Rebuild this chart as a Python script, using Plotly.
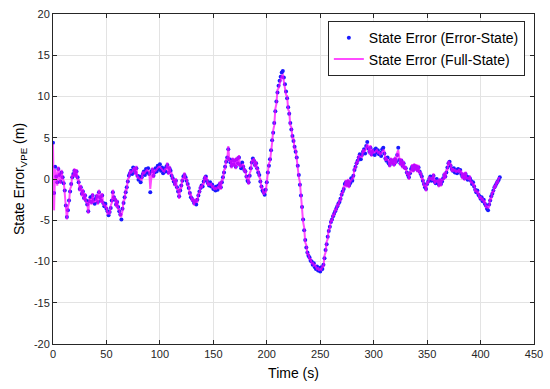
import plotly.graph_objects as go

# Error-State estimate of VPE state error (m), sampled every 1 s from t = 0 s
es_vals = [
    4.4, -1.7, 1.5, 0.3, -0.4, 1.2, 0.5, -0.3, 0.8, 0.2,
    -0.5, -1.4, -3.2, -4.6, -3.8, -2.6, -1.5, -0.6, 0.2, 0.6,
    1.0, 0.5, 0.9, 0.2, -0.4, -1.2, -1.0, -1.8, -1.5, -2.3,
    -2.0, -2.6, -3.1, -3.9, -2.7, -2.2, -2.8, -2.0, -2.5, -3.0,
    -2.4, -2.1, -2.8, -1.6, -2.2, -2.6, -2.0, -2.9, -3.3, -3.0,
    -3.6, -3.9, -4.4, -4.0, -3.5, -2.6, -1.6, -2.2, -2.5, -3.1,
    -2.8, -3.4, -3.9, -4.3, -4.9, -3.6, -2.9, -2.2, -1.6, -1.0,
    -0.3, 0.4, 0.7, 1.0, 0.6, 1.4, 1.1, 0.8, 1.3, 0.4,
    -0.1, 0.3, -0.4, 0.2, 0.6, 0.9, 0.5, 1.2, 0.8, 1.3,
    0.6, -1.6, 0.9, 1.1, 0.4, 0.8, 1.3, 0.9, 1.6, 1.2,
    1.8, 1.0, 1.4, 0.7, 1.2, 0.9, 1.5, 1.7, 0.8, 1.3,
    1.0, 0.4, 0.1, -0.3, -0.6, -0.2, -1.0, -1.5, -2.1, -1.4,
    -0.8, -0.2, 0.3, 0.5, 0.2, -0.2, -0.6, -1.1, -1.7, -2.2,
    -2.4, -2.6, -2.9, -2.7, -3.1, -2.5, -2.0, -1.5, -1.1, -0.8,
    -0.9, -0.3, 0.1, 0.3, -0.2, -0.5, -0.8, -0.4, -0.9, -0.7,
    -1.2, -1.0, -1.4, -0.9, -1.3, -0.8, -0.6, -1.0, -0.4, 0.2,
    0.8, 1.5, 2.1, 2.6, 3.6, 2.4, 2.0, 1.6, 2.3, 1.8,
    2.2, 1.5, 2.4, 1.9, 2.6, 1.7, 1.3, 2.0, 1.5, 1.1,
    0.9, 0.3, -0.2, -0.4, 0.4, 1.3, 2.0, 2.5, 2.2, 1.7,
    1.9, 1.3, 0.8, 0.5, -0.3, -0.9, -1.4, -1.6, -1.9, -1.3,
    -0.4, 0.8, 1.6, 2.4, 3.5, 4.7, 5.6, 6.8, 8.2, 9.4,
    10.5, 11.3, 11.9, 12.4, 12.9, 13.1, 12.3, 11.5, 10.6, 9.8,
    8.7, 7.9, 6.8, 6.0, 5.2, 4.6, 3.9, 3.3, 2.6, 1.6,
    0.5, -0.7, -2.0, -3.4, -4.9, -6.2, -7.4, -8.3, -8.9, -9.3,
    -9.5, -9.9, -10.0, -10.4, -10.2, -10.7, -10.9, -10.6, -11.1, -10.8,
    -11.2, -10.7, -10.9, -10.4, -9.6, -8.6, -7.9, -7.0, -6.3, -5.8,
    -5.2, -4.9, -4.5, -4.2, -3.9, -3.6, -3.3, -3.0, -2.8, -2.4,
    -1.9, -1.5, -1.2, -0.6, -0.4, -0.7, -0.3, -0.8, -0.5, 0.1,
    -0.2, 0.4, 1.1, 1.5, 1.9, 2.2, 2.6, 3.0, 2.4, 2.9,
    3.3, 3.6, 3.1, 4.0, 4.5, 3.7, 3.3, 3.8, 3.0, 3.3,
    3.5, 2.9, 3.7, 3.2, 3.5, 3.0, 3.2, 2.8, 3.6, 3.8,
    3.1, 2.5, 2.2, 2.6, 1.9, 1.7, 2.3, 2.0, 2.2, 1.8,
    2.4, 2.1, 2.9, 3.8, 2.3, 1.9, 2.2, 1.6, 1.9, 1.4,
    1.3, 0.8, 0.5, 0.2, 0.7, 1.2, 1.5, 1.1, 1.6, 1.3,
    1.5, 1.1, 1.4, 0.9, 0.6, 0.3, -0.2, -0.6, -1.0, -1.2,
    -0.6, -0.3, 0.0, 0.3, -0.2, 0.1, 0.4, -0.3, -0.5, 0.0,
    -0.4, -0.7, -0.2, -0.6, -0.3, 0.1, 0.5, 0.3, 0.8, 1.4,
    1.9, 2.1, 1.6, 1.2, 1.0, 1.3, 0.8, 1.1, 0.7, 1.2,
    0.9, 1.1, 0.6, 0.3, 0.5, 0.1, 0.6, 0.3, -0.1, 0.2,
    0.1, -0.2, -0.6, -0.4, -0.9, -1.3, -1.6, -1.4, -1.9, -2.1,
    -2.4, -2.2, -2.7, -2.5, -3.0, -3.2, -3.6, -3.8, -3.1, -2.6,
    -2.1, -1.8, -1.4, -1.0, -0.8, -0.5, -0.3, -0.1, 0.2,
]

# Full-State estimate of VPE state error (m), sampled every 1 s from t = 0 s
fs_vals = [
    4.2, -3.8, 1.2, 0.6, -0.8, 1.5, 0.2, -0.6, 1.1, 0.0,
    -0.2, -1.8, -2.8, -4.9, -3.4, -2.9, -1.2, -0.9, 0.5, 0.3,
    1.3, 0.2, 1.2, -0.1, -0.1, -1.5, -0.7, -2.1, -1.2, -2.6,
    -1.7, -2.9, -2.8, -4.2, -2.4, -2.5, -3.1, -1.7, -2.8, -2.7,
    -2.7, -1.8, -3.1, -1.3, -2.5, -2.9, -1.7, -3.2, -3.0, -3.4,
    -3.3, -4.2, -4.1, -4.3, -3.2, -2.9, -1.3, -2.5, -2.2, -3.4,
    -2.5, -3.7, -3.6, -4.6, -4.5, -3.9, -2.6, -2.5, -1.3, -1.3,
    0.0, 0.1, 1.0, 0.7, 0.9, 1.1, 1.4, 0.5, 1.6, 0.1,
    0.2, 0.0, -0.1, -0.1, 0.9, 0.6, 0.8, 0.9, 1.1, 1.0,
    0.9, -1.2, 0.6, 1.4, 0.1, 1.1, 1.0, 1.2, 1.3, 1.5,
    1.5, 1.3, 1.1, 1.0, 0.9, 1.2, 1.2, 2.0, 0.5, 1.6,
    0.7, 0.7, -0.2, 0.0, -0.9, 0.1, -1.3, -1.2, -2.4, -1.1,
    -1.1, 0.1, 0.0, 0.8, -0.1, 0.1, -0.9, -0.8, -2.0, -1.9,
    -2.7, -2.3, -3.2, -2.4, -2.8, -2.8, -1.7, -1.8, -0.8, -1.1,
    -0.6, -0.6, 0.4, 0.0, 0.1, -0.8, -0.5, -0.7, -0.6, -1.0,
    -0.9, -1.3, -1.1, -1.2, -1.0, -1.1, -0.3, -1.3, -0.1, -0.1,
    1.1, 1.2, 2.4, 2.3, 4.0, 2.1, 2.3, 1.3, 2.6, 1.5,
    2.5, 1.2, 2.7, 1.6, 2.9, 1.4, 1.6, 1.7, 1.8, 0.8,
    1.2, 0.0, 0.1, -0.7, 0.7, 1.0, 2.3, 2.2, 2.5, 1.4,
    2.2, 1.0, 1.1, 0.2, 0.0, -1.2, -1.1, -1.9, -1.6, -1.6,
    -0.1, 0.5, 1.9, 2.1, 3.8, 4.4, 5.9, 6.5, 8.5, 9.1,
    10.8, 11.0, 11.5, 12.0, 12.5, 12.6, 11.8, 11.0, 10.2, 10.1,
    8.4, 8.2, 6.5, 6.3, 4.9, 4.9, 3.6, 3.6, 2.3, 1.9,
    0.2, -0.4, -2.3, -3.1, -5.2, -5.9, -7.7, -8.0, -9.2, -9.0,
    -9.8, -9.6, -10.3, -10.1, -10.5, -10.4, -10.6, -10.9, -10.8, -11.1,
    -10.9, -11.0, -10.6, -10.7, -9.3, -8.9, -7.6, -7.3, -6.0, -6.1,
    -4.9, -5.2, -4.2, -4.5, -3.6, -3.9, -3.0, -3.3, -2.5, -2.7,
    -1.6, -1.8, -0.9, -0.9, -0.1, -1.0, 0.0, -1.1, -0.2, -0.2,
    0.1, 0.1, 1.4, 1.2, 2.2, 1.9, 2.9, 2.7, 2.7, 2.6,
    3.6, 3.3, 3.4, 3.7, 4.2, 4.0, 3.0, 4.1, 2.7, 3.6,
    3.2, 3.2, 3.4, 3.5, 3.2, 3.3, 2.9, 3.1, 3.3, 3.5,
    3.4, 2.2, 2.5, 2.3, 2.2, 1.4, 2.6, 1.7, 2.5, 1.5,
    2.7, 1.8, 3.2, 3.5, 2.6, 1.6, 2.5, 1.3, 2.2, 1.1,
    1.6, 0.5, 0.8, -0.1, 1.0, 0.9, 1.8, 0.8, 1.9, 1.0,
    1.8, 0.8, 1.7, 0.6, 0.9, 0.0, 0.1, -0.9, -0.7, -1.5,
    -0.3, -0.6, 0.3, 0.0, 0.1, -0.2, 0.7, -0.6, -0.2, -0.3,
    -0.1, -1.0, 0.1, -0.9, 0.0, -0.2, 0.8, 0.0, 1.1, 1.1,
    2.2, 1.8, 1.9, 0.9, 1.3, 1.0, 1.1, 0.8, 1.0, 0.9,
    1.2, 0.8, 0.9, 0.0, 0.8, -0.2, 0.9, 0.0, 0.2, -0.1,
    0.4, -0.5, -0.3, -0.7, -0.6, -1.6, -1.3, -1.7, -1.6, -2.4,
    -2.1, -2.5, -2.4, -2.8, -2.7, -3.5, -3.3, -3.5, -3.4, -2.3,
    -2.4, -1.5, -1.7, -0.7, -1.1, -0.2, -0.6, 0.2, 0.0,
]

t_es = list(range(len(es_vals)))
t_fs = list(range(len(fs_vals)))

x_ticks = [0, 50, 100, 150, 200, 250, 300, 350, 400, 450]
x_ticktext = ["0", "50", "100", "150", "200", "250", "300", "350", "400", "450"]
y_ticks = [-20, -15, -10, -5, 0, 5, 10, 15, 20]
y_ticktext = ["-20", "-15", "-10", "-5", "0", "5", "10", "15", "20"]

FONT = "Liberation Sans, Arial, Helvetica, sans-serif"
AXIS_COLOR = "#262626"

fig = go.Figure()
fig.add_trace(go.Scatter(
    x=t_es, y=es_vals, mode="markers", name="State Error (Error-State)",
    marker=dict(color="#1a1aff", size=4, line=dict(width=0)),
    legendrank=1,
))
fig.add_trace(go.Scatter(
    x=t_fs, y=fs_vals, mode="lines", name="State Error (Full-State)",
    line=dict(color="rgba(255,0,255,0.7)", width=2),
    legendrank=2,
))

axis_common = dict(
    showgrid=True, gridcolor="#e3e3e3", gridwidth=1,
    showline=True, linecolor=AXIS_COLOR, linewidth=1, mirror="ticks",
    ticks="inside", ticklen=4, tickcolor=AXIS_COLOR,
    zeroline=False, automargin=False, ticklabeloverflow="allow",
    tickfont=dict(family=FONT, size=11, color=AXIS_COLOR),
)

fig.update_xaxes(
    range=[0, 450], tickvals=x_ticks, ticktext=x_ticktext,
    title=dict(text="Time (s)", font=dict(family=FONT, size=14, color="#000"), standoff=8),
    **axis_common,
)
fig.update_yaxes(
    range=[-20, 20], tickvals=y_ticks, ticktext=y_ticktext,
    title=dict(text="State Error<sub>VPE</sub> (m)", font=dict(family=FONT, size=14, color="#000"), standoff=5),
    **axis_common,
)

fig.update_layout(
    width=550, height=389,
    margin=dict(l=53, r=16, t=14, b=45),
    paper_bgcolor="white", plot_bgcolor="white",
    font=dict(family=FONT),
    legend=dict(
        x=0.981, y=0.978, xanchor="right", yanchor="top",
        bgcolor="white", bordercolor=AXIS_COLOR, borderwidth=1,
        font=dict(family=FONT, size=14, color="#000"),
        tracegroupgap=0, itemwidth=30,
    ),
    showlegend=True,
)

fig.write_html("out.html", config={"displayModeBar": False})

# Remove the browser's default body margin so the figure sits at the page origin.
with open("out.html", "r", encoding="utf-8") as f:
    html = f.read()
html = html.replace("<body>", '<body style="margin:0;padding:0;">', 1)
with open("out.html", "w", encoding="utf-8") as f:
    f.write(html)
